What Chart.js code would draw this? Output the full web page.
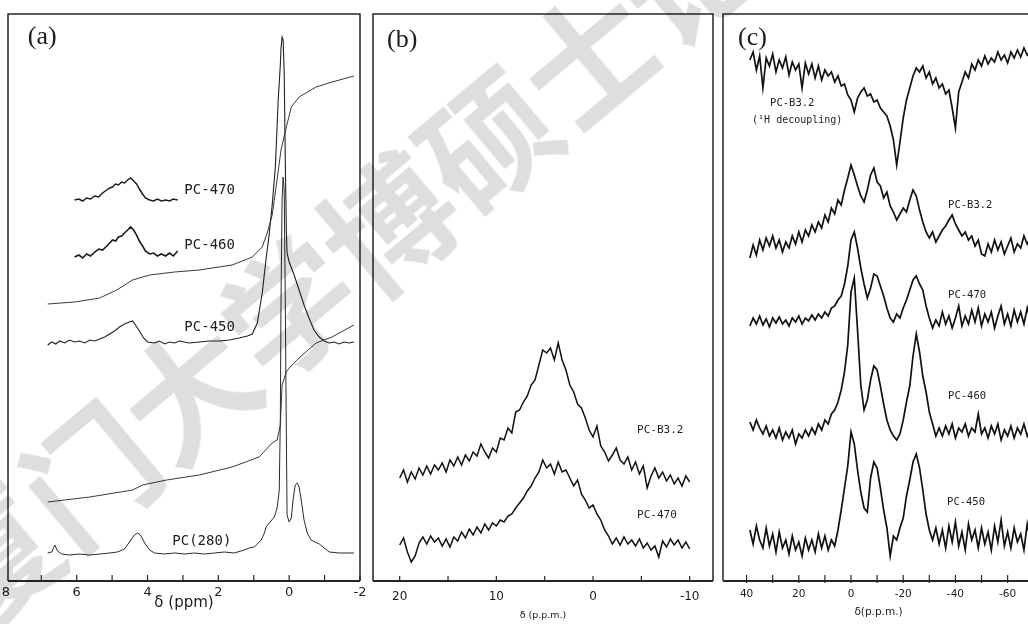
<!DOCTYPE html>
<html>
<head>
<meta charset="utf-8">
<script src="https://cdn.jsdelivr.net/npm/chart.js@4.4.1/dist/chart.umd.min.js"></script>
<style>
  html, body { margin: 0; padding: 0; background: #fff; overflow: hidden; width: 1028px; height: 624px; }
  .panel { position: absolute; top: 0; }
  #wm {
    position: absolute; left: -64px; top: 530px;
    font: 700 130px "Noto Sans CJK SC"; line-height: 130px; white-space: nowrap;
    color: rgba(0, 0, 0, 0.13); transform-origin: 0 50%; transform: rotate(-40deg);
    pointer-events: none;
  }
</style>
</head>
<body>
<div class="panel" style="left:0"><canvas id="chartA" width="368" height="624"></canvas></div>
<div class="panel" style="left:366px"><canvas id="chartB" width="352" height="624"></canvas></div>
<div class="panel" style="left:716px"><canvas id="chartC" width="320" height="624"></canvas></div>
<div id="wm">厦门大学博硕士论文</div>

<script>
// ---------- panel (a): 1H spectra (δ, ppm), arbitrary intensity units ----------
const ppmA280 = [6.82,6.70,6.62,6.54,6.42,6.20,5.92,5.63,5.35,5.07,4.85,4.65,4.51,4.37,4.28,4.20,4.08,3.94,3.80,3.52,3.24,2.96,2.68,2.39,2.11,1.83,1.55,1.27,1.13,0.99,0.90,0.79,0.70,0.65,0.54,0.42,0.34,0.28,0.25,0.23,0.20,0.17,0.14,0.11,0.08,0.06,0.00,-0.06,-0.11,-0.17,-0.23,-0.28,-0.34,-0.42,-0.51,-0.62,-0.73,-0.85,-0.99,-1.13,-1.41,-1.69,-1.83];
const intA280 = [0,1,8,2,-1,-2,-1,-2,-1,0,1,4,11,18,20,18,10,3,0,-1,0,-1,0,-1,0,1,0,3,5,6,9,13,20,26,31,36,45,63,133,253,353,376,363,253,123,38,31,35,53,68,70,66,53,33,20,13,11,9,5,1,0,0,0];

const ppmA450 = [6.82,6.70,6.59,6.48,6.34,6.20,6.06,5.92,5.77,5.63,5.49,5.35,5.21,5.07,4.93,4.79,4.65,4.51,4.42,4.34,4.23,4.11,4.00,3.80,3.66,3.52,3.38,3.24,3.10,2.82,2.54,2.25,1.97,1.69,1.41,1.18,1.04,0.90,0.76,0.65,0.56,0.48,0.39,0.31,0.25,0.23,0.20,0.17,0.14,0.11,0.08,0.06,0.00,-0.14,-0.28,-0.42,-0.56,-0.70,-0.85,-0.99,-1.13,-1.27,-1.41,-1.55,-1.69,-1.83];
const intA450 = [-2,1,-1,2,0,3,1,2,0,3,2,4,6,9,12,16,19,21,22,18,12,5,1,0,2,-1,1,0,2,0,1,2,2,3,5,7,9,20,50,85,110,138,176,243,278,295,306,303,268,183,113,90,81,68,53,38,25,13,6,2,0,1,-1,1,0,1];

const ppmIntegA = [6.82,6.06,5.35,4.87,4.42,3.94,3.24,2.54,1.61,1.04,0.76,0.62,0.48,0.37,0.23,0.08,-0.06,-0.28,-0.76,-1.21,-1.83];
const intIntegA = [0,2,6,14,24,29,32,34,39,47,57,71,89,117,154,177,197,207,217,222,228];

const ppmIntegB = [6.82,5.63,4.42,4.14,3.46,2.54,1.61,0.85,0.48,0.34,0.25,0.20,0.08,0.00,-0.28,-0.76,-1.21,-1.83];
const intIntegB = [0,5,12,17,22,27,35,45,59,62,77,117,130,134,144,159,165,177];

const ppmInset = [6.06,5.94,5.83,5.72,5.61,5.49,5.38,5.27,5.15,5.07,4.99,4.90,4.82,4.73,4.65,4.56,4.48,4.39,4.31,4.23,4.14,4.06,3.94,3.83,3.72,3.61,3.49,3.38,3.27,3.15];
const intInset470 = [0,1,-1,2,1,4,3,7,10,12,13,16,15,18,17,20,22,19,16,11,6,2,0,-1,1,-1,0,-1,1,0];
const intInset460 = [-2,0,-3,1,-1,3,6,5,9,12,15,14,18,19,22,25,28,25,20,14,9,4,1,2,-1,1,-1,2,-1,4];

// vertical stacking of the traces in panel (a)
const offsetsA = { pc280: 28, integB: 79, pc450: 238, integA: 277, pc460: 326, pc470: 381 };
const ticksA = [8,7,6,5,4,3,2,1,0,-1,-2];
const labelsA = [8,6,4,2,0,-2];

// ---------- panel (b) ----------
const ppmB = [20.0,19.6,19.2,18.8,18.4,18.0,17.6,17.2,16.8,16.4,16.0,15.6,15.2,14.8,14.4,14.0,13.6,13.2,12.8,12.4,12.0,11.6,11.2,10.8,10.4,10.0,9.6,9.2,8.8,8.4,8.0,7.6,7.2,6.8,6.4,6.0,5.6,5.2,4.8,4.4,4.0,3.6,3.2,2.8,2.4,2.0,1.6,1.2,0.8,0.4,0.0,-0.4,-0.8,-1.2,-1.6,-2.0,-2.4,-2.8,-3.2,-3.6,-4.0,-4.4,-4.8,-5.2,-5.6,-6.0,-6.4,-6.8,-7.2,-7.6,-8.0,-8.4,-8.8,-9.2,-9.6,-10.0];
const intB_B32 = [3,11,-1,9,2,13,6,15,7,16,11,18,9,21,15,24,16,26,20,29,25,37,29,23,33,29,43,41,53,48,69,71,79,85,96,101,116,131,128,133,121,138,121,111,96,89,77,73,63,51,44,55,35,29,20,26,33,21,17,24,11,19,7,15,-7,5,13,3,9,0,6,-3,3,-5,5,-1];
const intB_470 = [0,7,-7,-17,-11,2,8,1,9,3,7,-1,6,-2,8,4,13,7,16,10,18,12,21,15,22,19,25,23,29,31,37,42,47,54,59,67,73,85,77,81,71,83,73,75,67,59,65,51,45,37,40,31,25,15,9,1,7,0,8,1,5,-1,6,-3,2,-5,-1,-12,4,-2,6,0,5,-3,3,-4];
const offsetsB = { b32: 100, pc470: 36 };
const ticksB = [20,15,10,5,0,-5,-10];
const labelsB = [20,10,0,-10];

// ---------- panel (c) ----------
const ppmC = [38.75,37.5,36.25,35,33.75,32.5,31.25,30,28.75,27.5,26.25,25,23.75,22.5,21.25,20,18.75,17.5,16.25,15,13.75,12.5,11.25,10,8.75,7.5,6.25,5,3.75,2.5,1.25,0,-1.25,-2.5,-3.75,-5,-6.25,-7.5,-8.75,-10,-11.25,-12.5,-13.75,-15,-16.25,-17.5,-18.75,-20,-21.25,-22.5,-23.75,-25,-26.25,-27.5,-28.75,-30,-31.25,-32.5,-33.75,-35,-36.25,-37.5,-38.75,-40,-41.25,-42.5,-43.75,-45,-46.25,-47.5,-48.75,-50,-51.25,-52.5,-53.75,-55,-56.25,-57.5,-58.75,-60,-61.25,-62.5,-63.75,-65,-66.25,-67.5,-68.75];
const intC_B32dec = [11,19,1,15,-17,13,5,17,-1,11,3,14,-4,9,1,7,-17,8,-3,7,-7,5,-9,1,-5,-1,-11,-5,-15,-13,-24,-29,-41,-27,-21,-17,-25,-23,-31,-29,-37,-41,-45,-55,-69,-94,-71,-47,-29,-17,-5,3,-1,5,-7,-1,-13,-7,-17,-13,-23,-19,-37,-57,-21,-11,-1,-7,7,1,11,5,15,7,13,9,19,11,16,8,19,13,21,14,23,16,21];
const intC_B32 = [-11,2,-8,7,-3,9,1,11,-1,7,-5,5,-1,11,3,15,5,17,11,22,15,25,19,32,25,39,33,47,42,57,69,82,72,61,51,45,57,72,79,65,61,49,55,41,35,27,33,39,35,47,57,51,37,25,15,9,15,5,11,17,21,27,32,23,17,11,15,7,11,1,7,-7,-9,3,-5,7,-3,5,-7,1,9,-5,3,-1,11,3,9];
const intC_470 = [-3,5,-1,7,-2,4,-4,5,0,6,-1,3,-3,5,1,7,-1,5,2,8,3,9,5,11,7,15,17,23,27,39,57,83,91,75,55,39,25,35,49,47,37,27,15,5,1,9,5,15,23,33,43,47,39,33,17,5,-5,3,-3,11,-1,7,-5,5,17,-3,7,-1,13,1,15,-3,9,1,11,-5,7,17,-1,9,-3,13,1,11,-1,15,3];
const intC_460 = [10,2,12,4,-2,6,-4,2,-6,4,-8,0,-6,2,-12,-2,-6,2,-4,4,-2,8,2,12,8,18,22,30,42,60,87,140,154,102,47,22,32,52,66,62,46,28,12,2,-4,-8,-2,12,30,46,76,98,80,56,40,20,8,-4,4,-4,6,-2,8,-6,4,0,8,-4,4,0,18,-2,4,-6,6,-2,8,-8,2,-4,6,-6,4,-2,8,-4,4];
const intC_450 = [7,-7,11,-3,-11,9,-9,3,-15,5,-11,-3,-17,1,-13,-5,-19,-1,-13,-3,-15,3,-11,1,-13,-3,-9,7,27,49,71,105,93,67,45,29,25,59,75,69,49,27,9,-19,1,-3,9,19,41,57,75,83,69,47,23,7,-3,9,-7,7,-11,11,-5,15,-9,5,-13,13,-3,7,-11,9,-7,5,-13,11,-5,17,-9,5,-11,9,-5,3,-13,13,-3];
const offsetsC = { b32dec: 510, b32: 334, pc470: 258, pc460: 149, pc450: 44 };
const ticksC = [40,30,20,10,0,-10,-20,-30,-40,-50,-60];
const labelsC = [40,20,0,-20,-40,-60];

const INK = '#1c1c1c';

function spectrum(ppm, vals, offset, width, color) {
  return {
    data: ppm.map((x, i) => ({ x, y: vals[i] + offset })),
    borderColor: color || INK,
    borderWidth: width || 1,
    pointRadius: 0,
    tension: 0,
    fill: false
  };
}

// box frame, inward tick marks and the text notes placed in data coordinates
function framePlugin(notes, tickUp, tickDown) {
  return {
    id: 'frame',
    afterDatasetsDraw(chart) {
      const { ctx, chartArea: a } = chart;
      const x = chart.scales.x, y = chart.scales.y;
      ctx.save();
      ctx.strokeStyle = '#262626';
      ctx.lineWidth = 1.5;
      ctx.beginPath();
      ctx.moveTo(a.left, a.bottom);
      ctx.lineTo(a.left, a.top);
      ctx.lineTo(a.right, a.top);
      ctx.lineTo(a.right, a.bottom);
      ctx.stroke();
      ctx.lineWidth = 2.2;
      ctx.beginPath();
      ctx.moveTo(a.left, a.bottom);
      ctx.lineTo(a.right, a.bottom);
      ctx.stroke();
      ctx.lineWidth = 1.2;
      x.ticks.forEach(t => {
        if (t.value < x.min || t.value > x.max) return;
        const px = x.getPixelForValue(t.value);
        ctx.beginPath();
        ctx.moveTo(px, a.bottom + tickDown);
        ctx.lineTo(px, a.bottom - tickUp);
        ctx.stroke();
      });
      ctx.fillStyle = INK;
      ctx.textAlign = 'left';
      ctx.textBaseline = 'middle';
      notes.forEach(n => {
        ctx.font = n.font;
        ctx.fillText(n.text, x.getPixelForValue(n.x), y.getPixelForValue(n.y));
      });
      ctx.restore();
    }
  };
}

function build(id, o) {
  return new Chart(document.getElementById(id), {
    type: 'line',
    data: { datasets: o.datasets },
    options: {
      responsive: false,
      animation: false,
      events: [],
      layout: { padding: o.pad },
      plugins: { legend: { display: false }, tooltip: { enabled: false } },
      scales: {
        x: {
          type: 'linear',
          reverse: true,
          min: o.min,
          max: o.max,
          grid: { display: false, drawTicks: false },
          border: { display: false },
          afterBuildTicks: s => { s.ticks = o.ticks.map(v => ({ value: v })); },
          afterFit: s => { s.height = 43; s.paddingLeft = 0; s.paddingRight = 0; },
          ticks: {
            autoSkip: false,
            maxRotation: 0,
            padding: o.tickPad,
            color: INK,
            font: o.tickFont,
            callback: v => (o.labels.includes(v) ? String(v) : '')
          },
          title: {
            display: true,
            text: o.title,
            color: INK,
            font: o.titleFont,
            padding: { top: 0, bottom: o.titlePad }
          }
        },
        y: { display: false, min: 0, max: 567 }
      }
    },
    plugins: [framePlugin(o.notes, o.tickUp, o.tickDown)]
  });
}

const SERIF = '26px "Liberation Serif"';
const MONO = '"DejaVu Sans Mono"';

build('chartA', {
  datasets: [
    spectrum(ppmA280, intA280, offsetsA.pc280, 1, '#2a2a2a'),
    spectrum(ppmIntegB, intIntegB, offsetsA.integB, 1, '#3a3a3a'),
    spectrum(ppmA450, intA450, offsetsA.pc450, 1.1, '#222'),
    spectrum(ppmIntegA, intIntegA, offsetsA.integA, 1, '#3a3a3a'),
    spectrum(ppmInset, intInset460, offsetsA.pc460, 1.6),
    spectrum(ppmInset, intInset470, offsetsA.pc470, 1.5)
  ],
  min: -2, max: 7.94,
  pad: { left: 8, right: 8, top: 14, bottom: 0 },
  ticks: ticksA, labels: labelsA,
  tickPad: 4, tickFont: { family: 'DejaVu Sans', size: 13 },
  title: 'δ (ppm)', titleFont: { family: 'DejaVu Sans', size: 15 }, titlePad: 12,
  tickUp: 6, tickDown: 0,
  notes: [
    { text: '(a)', x: 7.38, y: 544, font: SERIF },
    { text: 'PC-470', x: 2.96, y: 391, font: '14px ' + MONO },
    { text: 'PC-460', x: 2.96, y: 336, font: '14px ' + MONO },
    { text: 'PC-450', x: 2.96, y: 254, font: '14px ' + MONO },
    { text: 'PC(280)', x: 3.30, y: 40, font: '14px ' + MONO }
  ]
});

build('chartB', {
  datasets: [
    spectrum(ppmB, intB_B32, offsetsB.b32, 1.5, '#111'),
    spectrum(ppmB, intB_470, offsetsB.pc470, 1.5, '#111')
  ],
  min: -12.41, max: 22.76,
  pad: { left: 7, right: 5, top: 14, bottom: 0 },
  ticks: ticksB, labels: labelsB,
  tickPad: 9, tickFont: { family: 'DejaVu Sans', size: 12 },
  title: 'δ (p.p.m.)', titleFont: { family: 'DejaVu Sans', size: 9.5 }, titlePad: 3,
  tickUp: 5, tickDown: 0,
  notes: [
    { text: '(b)', x: 21.3, y: 541, font: SERIF },
    { text: 'PC-B3.2', x: -4.55, y: 151, font: '11px ' + MONO },
    { text: 'PC-470', x: -4.55, y: 66, font: '11px ' + MONO }
  ]
});

build('chartC', {
  datasets: [
    spectrum(ppmC, intC_B32dec, offsetsC.b32dec, 1.7, '#111'),
    spectrum(ppmC, intC_B32, offsetsC.b32, 1.7, '#111'),
    spectrum(ppmC, intC_470, offsetsC.pc470, 1.7, '#111'),
    spectrum(ppmC, intC_460, offsetsC.pc460, 1.7, '#111'),
    spectrum(ppmC, intC_450, offsetsC.pc450, 1.7, '#111')
  ],
  min: -70.1, max: 49.04,
  pad: { left: 7, right: 2, top: 14, bottom: 0 },
  ticks: ticksC, labels: labelsC,
  tickPad: 7, tickFont: { family: 'DejaVu Sans', size: 10.5 },
  title: 'δ(p.p.m.)', titleFont: { family: 'DejaVu Sans', size: 10.5 }, titlePad: 5,
  tickUp: 6, tickDown: 2,
  notes: [
    { text: '(c)', x: 43.3, y: 543, font: SERIF },
    { text: 'PC-B3.2', x: 31.0, y: 478, font: '10.5px ' + MONO },
    { text: '(¹H decoupling)', x: 37.9, y: 461, font: '10px ' + MONO },
    { text: 'PC-B3.2', x: -37.2, y: 376, font: '10.5px ' + MONO },
    { text: 'PC-470', x: -37.2, y: 286, font: '10.5px ' + MONO },
    { text: 'PC-460', x: -37.2, y: 185, font: '10.5px ' + MONO },
    { text: 'PC-450', x: -36.8, y: 79, font: '10.5px ' + MONO }
  ]
});
</script>
</body>
</html>
